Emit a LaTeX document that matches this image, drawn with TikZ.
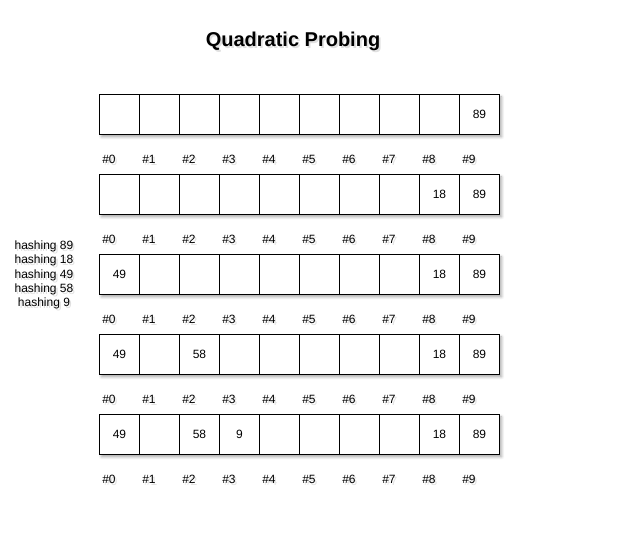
\documentclass[tikz,border=0pt]{standalone}
\usepackage{fontspec}
\setmainfont{Liberation Sans}
\usetikzlibrary{shadows.blur}

\tikzset{
  cell/.style={draw, line width=0.75pt, minimum width=30pt, minimum height=30pt,
    inner sep=0pt, font=\fontsize{9}{10.5}\selectfont},
  rowbox/.style={draw, fill=white, line width=0.75pt,
    blur shadow={shadow xshift=1.5pt, shadow yshift=-1.8pt, shadow blur steps=6, shadow opacity=35}},
  lbl/.style={inner sep=0pt, font=\fontsize{9}{10.5}\selectfont},
  lblshadow/.style={lbl, text=black!30, opacity=0.4}
}

% text with a soft grey copy behind it
\newcommand\shtext[4]{%
  \node[lblshadow, #3] at ([shift={(1.8,2)}]#1) {#4};
  \node[lbl, #3] (#2) at (#1) {#4};}

\begin{document}
\begin{tikzpicture}[x=0.75pt, y=-0.75pt, line cap=round, line join=round]
  \useasboundingbox (0,0) rectangle (619,536);

  % Title
  \shtext{293,41}{title}{font=\fontsize{15}{18}\bfseries\selectfont}{Quadratic Probing}

  % Rows of the table, top edges
  \foreach \r/\top in {1/94.5, 2/174.5, 3/254.5, 4/334.5, 5/414.5} {
    \draw[rowbox] (99.5,\top) rectangle (499.5,\top+40);
    \foreach \c in {0,...,9} {
      \node[cell] (r\r c\c) at (119.5+40*\c,\top+20) {};
      \shtext{102+40*\c,\top+64.5}{idx\r c\c}{anchor=west}{\#\c}
    }
  }

  % Stored keys
  \node[lbl] at (r1c9) {89};

  \node[lbl] at (r2c8) {18};
  \node[lbl] at (r2c9) {89};

  \node[lbl] at (r3c0) {49};
  \node[lbl] at (r3c8) {18};
  \node[lbl] at (r3c9) {89};

  \node[lbl] at (r4c0) {49};
  \node[lbl] at (r4c2) {58};
  \node[lbl] at (r4c8) {18};
  \node[lbl] at (r4c9) {89};

  \node[lbl] at (r5c0) {49};
  \node[lbl] at (r5c2) {58};
  \node[lbl] at (r5c3) {9};
  \node[lbl] at (r5c8) {18};
  \node[lbl] at (r5c9) {89};

  % Order of insertion
  \shtext{44,275}{order}{align=center, font=\fontsize{9}{10.7}\selectfont}{hashing 89\\hashing 18\\hashing 49\\hashing 58\\hashing 9}
\end{tikzpicture}
\end{document}
